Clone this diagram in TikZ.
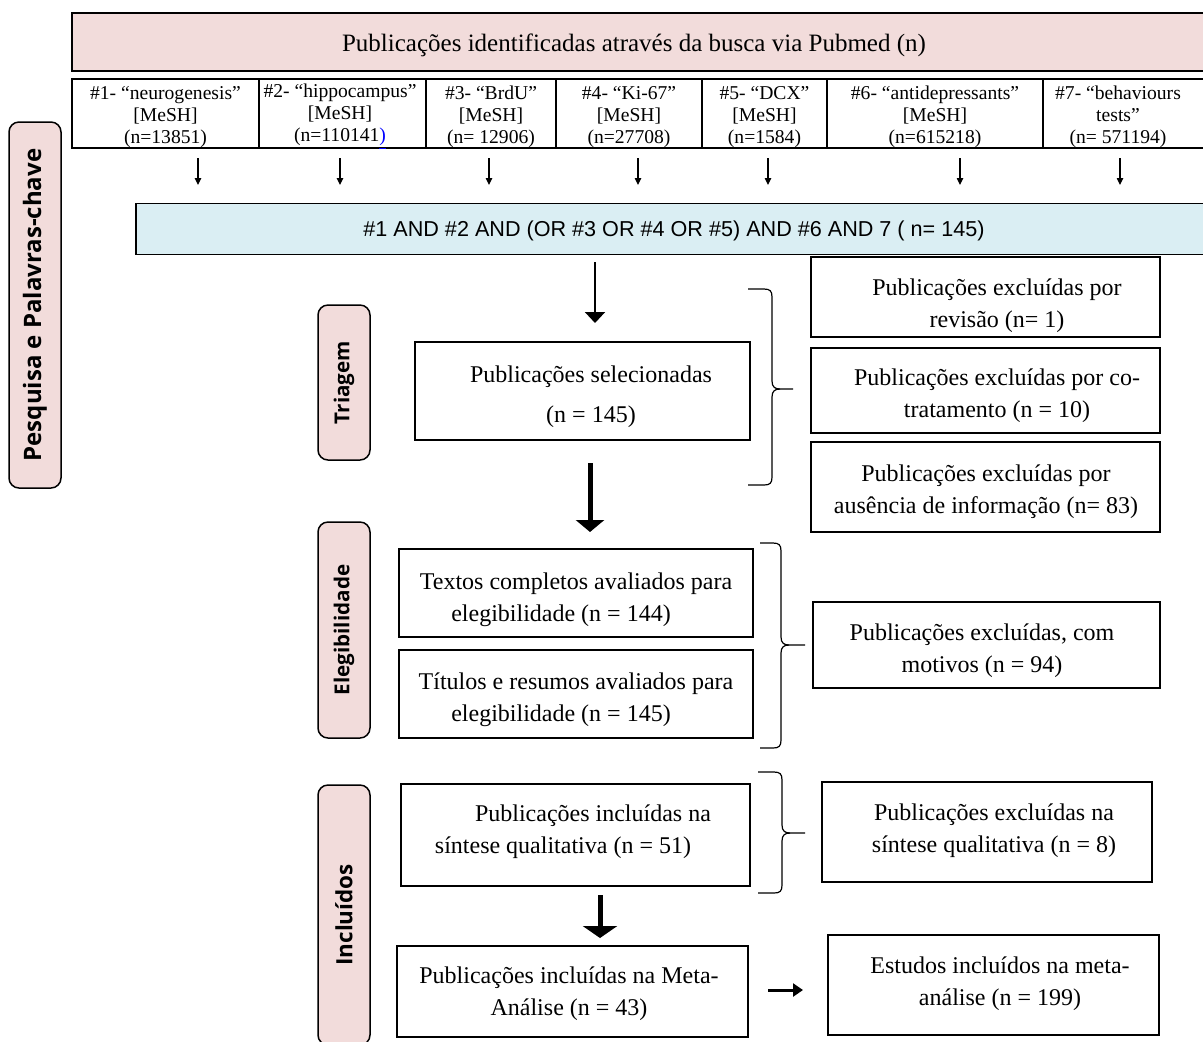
\documentclass[tikz,border=0pt]{standalone}
\usepackage{fontspec}
\setmainfont{Liberation Serif}
\newfontfamily\arialf{Liberation Sans}
\newfontfamily\labf{Open Sans}
\usetikzlibrary{arrows.meta}
\definecolor{pinkf}{HTML}{F2DCDB}
\definecolor{bluef}{HTML}{DAEEF3}
\definecolor{linkblue}{HTML}{0000FF}
\newcommand\mkbox[5]{\node[boxst, minimum width={(#4-#2)*0.5pt}, minimum height={(#5-#3)*0.5pt}] (#1) at ({(#2+#4)/2},{(#3+#5)/2}) {};}
\newcommand\mkcell[3]{\node[cellst, minimum width={(#3-#2)*0.5pt}] (#1) at ({(#2+#3)/2},113.5) {};}
\newcommand\mkbrace[6]{%
  \draw[bracest] (#1,#4) -- ({#2-8},#4) .. controls ({#2-2},#4) and (#2,{#4+2}) .. (#2,{#4+8}) -- (#2,{#5-8}) .. controls (#2,{#5-2}) and ({#2+3},#5) .. ({#2+8},#5) -- (#3,#5);
  \draw[bracest] ({#2+8},#5) .. controls ({#2+3},#5) and (#2,{#5+2}) .. (#2,{#5+8}) -- (#2,{#6-8}) .. controls (#2,{#6-2}) and ({#2-2},#6) .. ({#2-8},#6) -- (#1,#6);}
\begin{document}
\begin{tikzpicture}[x=0.5pt,y=-0.5pt,
  boxst/.style={draw=black, line width=0.75pt, inner sep=0pt},
  txt/.style={align=center, inner sep=0pt, font=\fontsize{12}{16}\selectfont},
  cellst/.style={draw=black, line width=1pt, inner sep=0pt, minimum height=34.5pt},
  celltxt/.style={align=center, inner sep=0pt, font=\fontsize{9.8}{11}\selectfont},
  labst/.style={draw=black, line width=0.75pt, fill=pinkf, rounded corners=5pt, rotate=90, inner sep=0pt, minimum height=26pt, font=\labf\bfseries\fontsize{10.3}{12}\selectfont},
  thinarrow/.style={line width=0.6pt, -{Triangle[length=3.5pt,width=3.2pt]}},
  bracest/.style={line width=0.6pt},
]
\useasboundingbox (0,0) rectangle (1203,1041);
\clip (0,0) rectangle (1203,1041);

% header
\node[draw=black, line width=0.75pt, fill=pinkf, minimum width=569pt, minimum height=29pt, inner sep=0pt] (hdr) at (641,42) {};
\node[inner sep=0pt, font=\fontsize{12.5}{15}\selectfont] (thdr) at (634,45) {Publicações identificadas através da busca via Pubmed (n)};

% search term cells
\mkcell{c1}{72}{259}
\mkcell{c2}{259}{426}
\mkcell{c3}{426}{556}
\mkcell{c4}{556}{702}
\mkcell{c5}{702}{827}
\mkcell{c6}{827}{1043}
\mkcell{c7}{1043}{1210}
\node[celltxt] (tc1) at (c1 |- 0,117) {\#1- “neurogenesis”\\{[MeSH]}\\(n=13851)};
\node[celltxt] (tc2) at (340,117) {\#2- “hippocampus”\\{[MeSH]}\\(n=110141\textcolor{linkblue}{\underline{)}}};
\node[celltxt] (tc3) at (c3 |- 0,117) {\#3- “BrdU”\\{[MeSH]}\\(n= 12906)};
\node[celltxt] (tc4) at (c4 |- 0,117) {\#4- “Ki-67”\\{[MeSH]}\\(n=27708)};
\node[celltxt] (tc5) at (c5 |- 0,117) {\#5- “DCX”\\{[MeSH]}\\(n=1584)};
\node[celltxt] (tc6) at (c6 |- 0,117) {\#6- “antidepressants”\\{[MeSH]}\\(n=615218)};
\node[celltxt] (tc7) at (1118,117) {\#7- “behaviours\\tests”\\(n= 571194)};

% small arrows
\foreach \i/\xx in {1/198,2/340,3/489,4/638,5/768,6/960,7/1120}{
  \coordinate (ts\i) at (\xx,158);
  \coordinate (te\i) at (\xx,185);
  \draw[thinarrow] (ts\i) -- (te\i);
}

% blue bar
\node[draw=black, line width=0.75pt, fill=bluef, minimum width=537pt, minimum height=25.5pt, inner sep=0pt] (bar) at (673,229) {};
\node[inner sep=0pt, font=\arialf\fontsize{10.8}{13}\selectfont] (tbar) at (674,231) {\#1 AND \#2 AND (OR \#3 OR \#4 OR \#5) AND \#6 AND 7 ( n= 145)};

% side labels
\node[labst, minimum width=183pt, font=\labf\bfseries\fontsize{12}{14}\selectfont] (lpes) at (35,305) {Pesquisa e Palavras-chave};
\node[labst, minimum width=77.5pt] (ltri) at (344,382.5) {Triagem};
\node[labst, minimum width=108pt] (lele) at (344,630) {Elegibilidade};
\node[labst, minimum width=130pt, font=\labf\bfseries\fontsize{11.2}{13}\selectfont] (linc) at (344,915) {Incluídos};

% boxes
\mkbox{sel}{415}{342}{750}{440}
\node[txt, font=\fontsize{12}{20}\selectfont] (tsel) at (591,397) {Publicações selecionadas\\(n = 145)};
\mkbox{exa}{811}{257}{1160}{337}
\node[txt] (texa) at (997,306) {Publicações excluídas por\\revisão (n= 1)};
\mkbox{exb}{811}{348}{1160}{433}
\node[txt] (texb) at (997,396) {Publicações excluídas por co-\\tratamento (n = 10)};
\mkbox{exc}{811}{442}{1160}{532}
\node[txt] (texc) at (986,492) {Publicações excluídas por\\ausência de informação (n= 83)};

\mkbox{ela}{399}{549}{753}{637}
\node[txt] (tela) at (576,600) {Textos completos avaliados para\\elegibilidade (n = 144)\hspace*{15pt}};
\mkbox{elb}{399}{650}{753}{738}
\node[txt] (telb) at (576,700) {Títulos e resumos avaliados para\\elegibilidade (n = 145)\hspace*{15pt}};
\mkbox{exm}{813}{602}{1160}{688}
\node[txt] (texm) at (982,651) {Publicações excluídas, com\\motivos (n = 94)};

\mkbox{inc}{401}{784}{750}{886}
\node[txt] (tinc) at (578,832) {\hspace*{15pt}Publicações incluídas na\\síntese qualitativa (n = 51)\hspace*{15pt}};
\mkbox{exq}{822}{782}{1152}{882}
\node[txt] (texq) at (994,831) {Publicações excluídas na\\síntese qualitativa (n = 8)};

\mkbox{ind}{397}{946}{748}{1037}
\node[txt] (tind) at (569,994) {Publicações incluídas na Meta-\\Análise (n = 43)};
\mkbox{est}{828}{935}{1159}{1035}
\node[txt] (test) at (1000,984) {Estudos incluídos na meta-\\análise (n = 199)};

% main arrows
\coordinate (a1s) at (595,262); \coordinate (a1e) at (595,323);
\draw[line width=1pt, -{Triangle[length=5.5pt,width=10pt]}] (a1s) -- (a1e);
\coordinate (a2s) at (590,463); \coordinate (a2e) at (590,532);
\draw[line width=2.5pt, -{Triangle[length=6pt,width=14pt]}] (a2s) -- (a2e);
\coordinate (a3s) at (600,895); \coordinate (a3e) at (600,938);
\draw[line width=2.5pt, -{Triangle[length=6pt,width=17pt]}] (a3s) -- (a3e);
\coordinate (a4s) at (768,990); \coordinate (a4e) at (803,990);
\draw[line width=1.5pt, -{Triangle[length=5pt,width=6.5pt]}] (a4s) -- (a4e);

% braces
\mkbrace{748}{772}{793}{289}{389}{485}
\mkbrace{760}{781}{805}{543}{645}{748}
\mkbrace{758}{782}{805}{772}{833}{893}
\end{tikzpicture}
\end{document}
